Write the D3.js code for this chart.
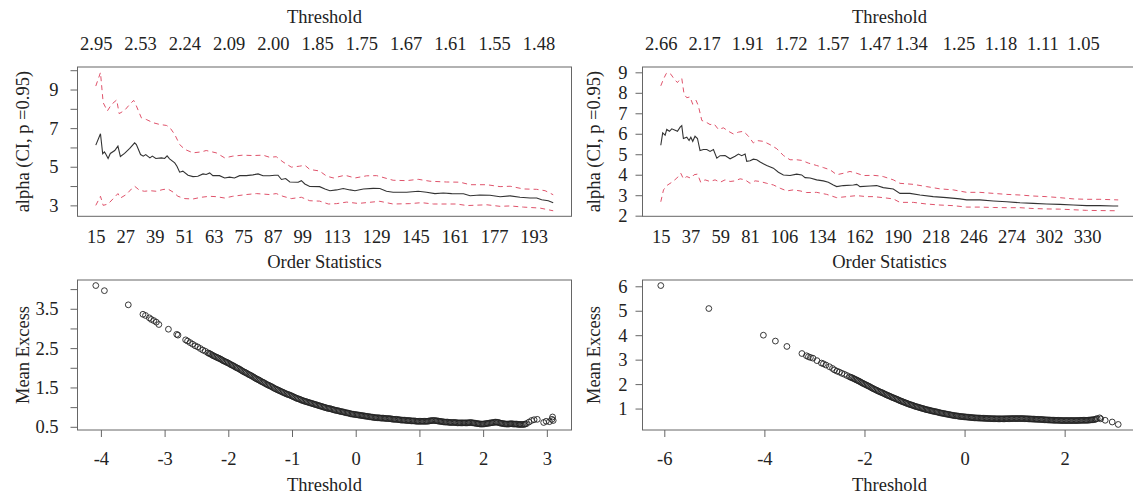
<!DOCTYPE html>
<html><head><meta charset="utf-8">
<script src="https://cdn.jsdelivr.net/npm/d3@7"></script>
<style>
body{margin:0;background:#fff}
svg text{font-family:"Liberation Serif","Times New Roman",serif;}
</style>
</head><body>
<svg id="c" width="1133" height="496"></svg>
<script>
// ---------------- DATA ----------------
// Hill plot, left series: [order statistic k, value]
const hillLeftAlpha = [[15,6.12],[16.9,6.71],[17.8,5.67],[18.5,5.77],[19,5.67],[20,5.43],[20.9,5.69],[22.7,5.84],[24,6.07],[25,5.53],[26.7,5.69],[28.8,5.95],[30.8,6.24],[31.5,6.15],[33.2,5.63],[34.3,5.55],[35.3,5.63],[37,5.46],[38,5.55],[39.4,5.43],[41.7,5.46],[43,5.43],[44,5.56],[45,5.41],[47.1,5.2],[48,5.03],[49.1,4.72],[50.4,4.77],[52.5,4.56],[54.5,4.49],[56.5,4.51],[58.6,4.63],[59.9,4.6],[61.3,4.68],[62.6,4.54],[65.3,4.54],[67.4,4.42],[69.4,4.46],[71.4,4.42],[73.5,4.54],[76.2,4.54],[78.9,4.58],[81,4.63],[83,4.53],[85.7,4.53],[87.8,4.56],[89.1,4.56],[90.5,4.34],[92.2,4.39],[93.9,4.21],[97.3,4.2],[98.6,4.28],[100,4.11],[102,3.98],[106,3.97],[108.2,3.85],[110.2,3.76],[112.9,3.8],[115.6,3.87],[118.4,3.8],[120.4,3.76],[123.8,3.85],[127.8,3.88],[130.5,3.87],[133.2,3.73],[135.9,3.68],[141.4,3.68],[146.1,3.73],[149.5,3.68],[152.9,3.61],[156.3,3.64],[159.7,3.61],[164.5,3.6],[167.2,3.5],[171.2,3.54],[175.3,3.52],[179.4,3.45],[183.5,3.49],[187.5,3.42],[191.6,3.38],[194.3,3.38],[196.3,3.29],[199,3.24],[201,3.14]];
const hillLeftUpper = [[15,9.18],[16.9,9.88],[18,8.32],[19.7,7.89],[21.4,8.23],[23.5,8.46],[24.5,7.75],[26.7,7.92],[28.8,8.23],[30.4,8.44],[31.5,8.15],[33.5,7.54],[35.5,7.45],[38.3,7.28],[41,7.19],[43.7,7.14],[45,7.05],[47.1,6.67],[49.1,6.15],[51.2,5.9],[54.5,5.72],[57.9,5.77],[59.9,5.84],[64,5.72],[67.4,5.46],[70.7,5.55],[74.8,5.6],[78.9,5.58],[83,5.6],[85.7,5.49],[88.4,5.52],[91.1,5.25],[94.5,4.98],[97.9,5.03],[100,5.08],[102,4.86],[106,4.78],[108.9,4.51],[111.6,4.42],[116.3,4.56],[120.4,4.42],[125.1,4.53],[129.2,4.54],[135.9,4.3],[141.4,4.28],[146.1,4.35],[150.9,4.25],[157.6,4.21],[163.1,4.2],[167.2,4.07],[174,4.07],[179.4,3.97],[183.5,3.99],[188.9,3.85],[194.3,3.83],[197.7,3.76],[201,3.55]];
const hillLeftLower = [[15,3.0],[16.9,3.47],[18,3.0],[20,3.07],[22.1,3.35],[24,3.61],[25,3.38],[27.4,3.56],[29.5,3.85],[30.8,3.99],[32.8,3.78],[34.8,3.73],[37,3.76],[39.6,3.73],[42.3,3.82],[44.3,3.85],[46.4,3.69],[48.4,3.47],[51.2,3.35],[54.5,3.33],[57.9,3.42],[61.3,3.47],[64,3.45],[67.4,3.38],[70.7,3.47],[76.2,3.56],[80.3,3.61],[85.7,3.56],[88.4,3.61],[91.1,3.47],[94.5,3.35],[98.6,3.42],[102,3.24],[106,3.22],[109.6,3.07],[112.9,3.09],[117,3.17],[121.7,3.1],[126.5,3.16],[130.5,3.21],[135.9,3.07],[142.7,3.09],[147.5,3.14],[152.3,3.07],[161.8,3.07],[165.9,2.99],[174,3.03],[179.4,2.95],[183.5,2.97],[188.9,2.91],[195.6,2.86],[201,2.72]];

// Hill plot, right series
const hillRightAlpha = [[15,5.44],[16.4,6.04],[18.2,5.93],[19.4,6.21],[21.4,6.12],[23.1,6.24],[25.6,6.17],[27.3,6.12],[29.3,6.32],[30.5,6.40],[31.7,5.77],[34.2,5.83],[35.9,5.67],[37.2,5.83],[38.6,5.63],[40.3,5.88],[42.1,5.77],[44,5.18],[46.5,5.23],[49,5.23],[51.4,5.14],[53.9,5.23],[56.4,4.81],[58.8,4.93],[62.5,4.94],[66.2,4.78],[69.9,4.9],[72.4,5.01],[74.8,4.93],[77.3,5.01],[78.5,4.65],[81,4.68],[83.4,4.76],[85.9,4.73],[88.4,4.62],[93.3,4.45],[98.2,4.32],[101.9,4.12],[105.6,3.99],[110.5,3.96],[115.4,4.03],[119.1,3.99],[121.6,3.86],[125.3,3.84],[130.2,3.75],[135.1,3.70],[138.8,3.63],[142.5,3.5],[145,3.42],[149.9,3.47],[157.3,3.5],[159.8,3.53],[162.2,3.42],[169.6,3.45],[174.5,3.47],[179.4,3.37],[186.8,3.3],[191.7,3.09],[199.1,3.09],[206.5,3.01],[216.3,2.93],[226.2,2.88],[236.1,2.82],[241,2.77],[250.8,2.77],[260.7,2.72],[270.5,2.68],[280.4,2.63],[290.2,2.6],[300.1,2.57],[309.9,2.55],[319.8,2.52],[329.6,2.49],[339.5,2.49],[349.3,2.47],[353,2.47]];
const hillRightUpper = [[15,8.34],[17,8.67],[19,8.94],[20.7,8.99],[22.4,8.91],[24.9,8.67],[27.3,8.5],[29.3,8.67],[30.5,8.71],[32.2,7.93],[34.2,7.76],[36.6,7.8],[38.6,7.44],[41.1,7.63],[42.8,7.35],[45.3,6.65],[48.4,6.57],[51.4,6.45],[54.4,6.48],[57.6,6.21],[61.3,6.29],[65,6.12],[68.7,5.99],[72.4,6.08],[76.1,6.12],[79.8,5.88],[83.4,5.55],[85.9,5.67],[90.8,5.63],[95.7,5.47],[100.7,5.27],[105.6,4.94],[110.5,4.73],[115.4,4.73],[119.1,4.7],[124,4.57],[130.2,4.45],[135.1,4.35],[140.1,4.24],[145,4.0],[149.9,4.07],[154.8,4.16],[159.8,4.07],[164.7,3.96],[172.1,3.97],[177,3.94],[179.4,3.91],[186.8,3.75],[191.7,3.58],[201.6,3.53],[211.4,3.42],[221.3,3.31],[231.1,3.26],[241,3.14],[250.8,3.14],[260.7,3.09],[270.5,3.04],[280.4,3.01],[290.2,2.96],[300.1,2.93],[309.9,2.88],[319.8,2.82],[329.6,2.8],[339.5,2.8],[353,2.77]];
const hillRightLower = [[15,2.68],[17,3.26],[19.4,3.47],[23.1,3.63],[26.8,3.83],[29.8,4.07],[31.7,3.8],[34.2,3.91],[37.2,3.83],[39.6,4.0],[42.1,4.03],[44.5,3.63],[47.7,3.75],[51.4,3.67],[55.1,3.75],[58.8,3.63],[62.5,3.75],[66.2,3.67],[69.9,3.7],[73.6,3.8],[77.3,3.75],[81,3.58],[84.7,3.7],[88.4,3.67],[93.3,3.58],[98.2,3.5],[103.2,3.34],[108.1,3.21],[113,3.26],[117.9,3.21],[122.8,3.13],[130.2,3.14],[137.6,3.04],[145,2.88],[152.3,2.93],[159.8,2.98],[167.1,2.93],[172.1,2.93],[179.4,2.88],[186.8,2.82],[191.7,2.65],[201.6,2.65],[211.4,2.57],[221.3,2.52],[231.1,2.49],[241,2.42],[250.8,2.42],[260.7,2.4],[270.5,2.39],[280.4,2.39],[290.2,2.35],[300.1,2.33],[309.9,2.32],[319.8,2.29],[329.6,2.26],[339.5,2.25],[353,2.24]];

// Hill axes tick labels
const hillLeftOrderTicks = [15,27,39,51,63,75,87,99,113,129,145,161,177,193];
const hillLeftThreshK = [15,33,51,69,87,105,123,141,159,177,195];
const hillLeftThreshLabels = ["2.95","2.53","2.24","2.09","2.00","1.85","1.75","1.67","1.61","1.55","1.48"];
const hillLeftYTicks = [3,4,5,6,7,8,9,10];
const hillLeftYLabels = [3,5,7,9];
const hillRightOrderTicks = [15,37,59,81,106,134,162,190,218,246,274,302,330];
const hillRightThreshK = [15,47,79,111,142,173,200,235,266,297,327];
const hillRightThreshLabels = ["2.66","2.17","1.91","1.72","1.57","1.47","1.34","1.25","1.18","1.11","1.05"];
const hillRightYTicks = [2,3,4,5,6,7,8,9];
const hillRightYLabels = [2,3,4,5,6,7,8,9];

// Mean excess plot, left: [threshold, mean excess]
const meLeft = [[-4.08,4.09],[-3.945,3.96],[-3.57,3.60],[-3.34,3.36],[-3.30,3.33],[-3.24,3.27],[-3.21,3.23],[-3.17,3.20],[-3.13,3.16],[-3.09,3.10],[-2.94,2.98],[-2.81,2.85],[-2.79,2.83],[-2.67,2.71],[-2.64,2.68],
[-2.60,2.64],[-2.56,2.60],[-2.52,2.56],[-2.48,2.53],[-2.44,2.49],[-2.40,2.45],[-2.36,2.42],[-2.32,2.38],
[-2.30,2.365],[-2.28,2.35],[-2.26,2.33],[-2.24,2.31],[-2.22,2.295],[-2.20,2.28],[-2.18,2.265],[-2.16,2.25],[-2.14,2.235],[-2.12,2.22],[-2.10,2.20],[-2.08,2.18],[-2.06,2.165],[-2.04,2.15],[-2.02,2.135],[-2.00,2.12],[-1.98,2.10],[-1.96,2.08],[-1.94,2.065],[-1.92,2.05],[-1.90,2.03],[-1.88,2.01],[-1.86,1.995],[-1.84,1.98],[-1.82,1.96],[-1.80,1.94],[-1.78,1.92],[-1.76,1.90],[-1.74,1.885],[-1.72,1.87],[-1.70,1.85],[-1.68,1.83],[-1.66,1.815],[-1.64,1.80],[-1.62,1.78],[-1.60,1.76],[-1.58,1.74],[-1.56,1.72],[-1.54,1.705],[-1.52,1.69],[-1.50,1.67],[-1.48,1.65],[-1.46,1.635],[-1.44,1.62],[-1.42,1.60],[-1.40,1.58],[-1.38,1.565],[-1.36,1.55],[-1.34,1.535],[-1.32,1.52],[-1.30,1.50],[-1.28,1.48],[-1.26,1.465],[-1.24,1.45],[-1.22,1.435],[-1.20,1.42],[-1.18,1.405],[-1.16,1.39],[-1.14,1.375],[-1.12,1.36],[-1.10,1.345],[-1.08,1.33],[-1.06,1.32],[-1.04,1.31],[-1.02,1.295],[-1.00,1.28],[-0.98,1.265],[-0.96,1.25],[-0.94,1.235],[-0.92,1.22],[-0.90,1.21],[-0.88,1.20],[-0.86,1.185],[-0.84,1.17],[-0.82,1.16],[-0.80,1.15],[-0.78,1.14],[-0.76,1.13],[-0.74,1.12],[-0.72,1.11],[-0.70,1.10],[-0.68,1.09],[-0.66,1.08],[-0.64,1.07],[-0.62,1.06],[-0.60,1.05],[-0.58,1.04],[-0.56,1.03],[-0.54,1.02],[-0.52,1.01],[-0.50,1.00],[-0.48,0.99],[-0.46,0.98],[-0.44,0.97],[-0.42,0.965],[-0.40,0.96],[-0.38,0.95],[-0.36,0.94],[-0.34,0.93],[-0.32,0.92],[-0.30,0.915],[-0.28,0.91],[-0.26,0.90],[-0.24,0.89],[-0.22,0.885],[-0.20,0.88],[-0.18,0.87],[-0.16,0.86],[-0.14,0.855],[-0.12,0.85],[-0.10,0.84],[-0.08,0.83],[-0.06,0.825],[-0.04,0.82],[-0.02,0.815],[0.00,0.81],[0.02,0.805],[0.04,0.80],[0.06,0.795],[0.08,0.79],[0.10,0.785],[0.12,0.78],[0.14,0.775],[0.16,0.77],[0.18,0.765],[0.20,0.76],[0.22,0.755],[0.24,0.75],[0.26,0.745],[0.28,0.74],[0.30,0.735],[0.32,0.73],[0.34,0.73],[0.36,0.73],[0.38,0.725],[0.40,0.72],[0.42,0.72],[0.44,0.72],[0.46,0.715],[0.48,0.71],[0.50,0.71],[0.52,0.71],[0.54,0.705],[0.56,0.70],[0.58,0.695],[0.60,0.69],[0.62,0.69],[0.64,0.69],[0.66,0.685],[0.68,0.68],[0.70,0.675],[0.72,0.67],[0.74,0.67],[0.76,0.67],[0.78,0.665],[0.80,0.66],[0.82,0.66],[0.84,0.66],[0.86,0.655],[0.88,0.65],[0.90,0.65],[0.92,0.65],[0.94,0.645],[0.96,0.64],[0.98,0.64],[1.00,0.64],[1.02,0.64],[1.04,0.64],[1.06,0.64],[1.08,0.64],[1.10,0.64],[1.12,0.64],[1.14,0.645],[1.16,0.65],[1.18,0.655],[1.20,0.66],[1.22,0.66],[1.24,0.66],[1.26,0.655],[1.28,0.65],[1.30,0.645],[1.32,0.64],[1.34,0.635],[1.36,0.63],[1.38,0.625],[1.40,0.62],[1.42,0.62],[1.44,0.62],[1.46,0.615],[1.48,0.61],[1.50,0.61],[1.52,0.61],[1.54,0.61],[1.56,0.61],[1.58,0.605],[1.60,0.60],[1.62,0.60],[1.64,0.60],[1.66,0.60],[1.68,0.60],[1.70,0.60],[1.72,0.60],[1.74,0.60],[1.76,0.60],[1.78,0.605],[1.80,0.61],[1.82,0.605],[1.84,0.60],[1.86,0.595],[1.88,0.59],[1.90,0.585],[1.92,0.58],[1.94,0.575],[1.96,0.57],[1.98,0.57],[2.00,0.57],[2.02,0.575],[2.04,0.58],[2.06,0.585],[2.08,0.59],[2.10,0.595],[2.12,0.60],[2.14,0.605],[2.16,0.61],[2.18,0.615],[2.20,0.62],[2.22,0.615],[2.24,0.61],[2.26,0.60],[2.28,0.59],[2.30,0.585],[2.32,0.58],[2.34,0.575],[2.36,0.57],[2.38,0.57],[2.40,0.57],[2.42,0.575],[2.44,0.58],[2.46,0.575],[2.48,0.57],[2.50,0.57],[2.52,0.57],[2.54,0.565],[2.56,0.56],[2.58,0.56],[2.60,0.56],[2.62,0.56],[2.64,0.56],[2.66,0.57],[2.68,0.58],
[2.72,0.62],[2.76,0.66],[2.80,0.68],[2.85,0.69],[2.95,0.61],[2.99,0.64],[3.04,0.63],[3.08,0.69],[3.09,0.75],[3.10,0.66]];
const meLeftXTicks = [-4,-3,-2,-1,0,1,2,3];
const meLeftYTicks = [0.5,1,1.5,2,2.5,3,3.5,4];
const meLeftYLabels = [0.5,1.5,2.5,3.5];

// Mean excess plot, right
const meRight = [[-6.07,6.03],[-5.11,5.09],[-4.02,4.00],[-3.78,3.76],[-3.55,3.54],[-3.25,3.25],[-3.16,3.16],[-3.12,3.12],[-3.08,3.09],[-3.03,3.06],[-2.95,2.96],[-2.86,2.86],[-2.82,2.83],[-2.77,2.78],[-2.70,2.71],[-2.64,2.64],
[-2.60,2.58],[-2.55,2.53],[-2.50,2.49],[-2.45,2.44],[-2.40,2.40],[-2.35,2.35],
[-2.300,2.30],[-2.275,2.28],[-2.250,2.26],[-2.225,2.235],[-2.200,2.21],[-2.175,2.185],[-2.150,2.16],[-2.125,2.135],[-2.100,2.11],[-2.075,2.08],[-2.050,2.05],[-2.025,2.025],[-2.000,2.00],[-1.975,1.975],[-1.950,1.95],[-1.925,1.925],[-1.900,1.90],[-1.875,1.87],[-1.850,1.84],[-1.825,1.815],[-1.800,1.79],[-1.775,1.765],[-1.750,1.74],[-1.725,1.715],[-1.700,1.69],[-1.675,1.67],[-1.650,1.65],[-1.625,1.625],[-1.600,1.60],[-1.575,1.575],[-1.550,1.55],[-1.525,1.53],[-1.500,1.51],[-1.475,1.485],[-1.450,1.46],[-1.425,1.44],[-1.400,1.42],[-1.375,1.40],[-1.350,1.38],[-1.325,1.355],[-1.300,1.33],[-1.275,1.31],[-1.250,1.29],[-1.225,1.27],[-1.200,1.25],[-1.175,1.23],[-1.150,1.21],[-1.125,1.19],[-1.100,1.17],[-1.075,1.155],[-1.050,1.14],[-1.025,1.12],[-1.000,1.10],[-0.975,1.085],[-0.950,1.07],[-0.925,1.055],[-0.900,1.04],[-0.875,1.025],[-0.850,1.01],[-0.825,0.995],[-0.800,0.98],[-0.775,0.965],[-0.750,0.95],[-0.725,0.94],[-0.700,0.93],[-0.675,0.915],[-0.650,0.90],[-0.625,0.89],[-0.600,0.88],[-0.575,0.87],[-0.550,0.86],[-0.525,0.845],[-0.500,0.83],[-0.475,0.82],[-0.450,0.81],[-0.425,0.80],[-0.400,0.79],[-0.375,0.78],[-0.350,0.77],[-0.325,0.76],[-0.300,0.75],[-0.275,0.74],[-0.250,0.73],[-0.225,0.72],[-0.200,0.71],[-0.175,0.705],[-0.150,0.70],[-0.125,0.69],[-0.100,0.68],[-0.075,0.675],[-0.050,0.67],[-0.025,0.665],[0.000,0.66],[0.025,0.655],[0.050,0.65],[0.075,0.645],[0.100,0.64],[0.125,0.635],[0.150,0.63],[0.175,0.625],[0.200,0.62],[0.225,0.618],[0.250,0.615],[0.275,0.613],[0.300,0.61],[0.325,0.608],[0.350,0.605],[0.375,0.603],[0.400,0.60],[0.425,0.598],[0.450,0.595],[0.475,0.593],[0.500,0.59],[0.525,0.588],[0.550,0.585],[0.575,0.585],[0.600,0.585],[0.625,0.583],[0.650,0.58],[0.675,0.58],[0.700,0.58],[0.725,0.58],[0.750,0.58],[0.775,0.58],[0.800,0.58],[0.825,0.583],[0.850,0.585],[0.875,0.585],[0.900,0.585],[0.925,0.588],[0.950,0.59],[0.975,0.59],[1.000,0.59],[1.025,0.59],[1.050,0.59],[1.075,0.59],[1.100,0.59],[1.125,0.59],[1.150,0.59],[1.175,0.588],[1.200,0.585],[1.225,0.583],[1.250,0.58],[1.275,0.578],[1.300,0.575],[1.325,0.573],[1.350,0.57],[1.375,0.568],[1.400,0.565],[1.425,0.563],[1.450,0.56],[1.475,0.558],[1.500,0.555],[1.525,0.553],[1.550,0.55],[1.575,0.545],[1.600,0.54],[1.625,0.538],[1.650,0.535],[1.675,0.533],[1.700,0.53],[1.725,0.528],[1.750,0.525],[1.775,0.523],[1.800,0.52],[1.825,0.52],[1.850,0.52],[1.875,0.518],[1.900,0.515],[1.925,0.513],[1.950,0.51],[1.975,0.51],[2.000,0.51],[2.025,0.51],[2.050,0.51],[2.075,0.51],[2.100,0.51],[2.125,0.51],[2.150,0.51],[2.175,0.51],[2.200,0.51],[2.225,0.51],[2.250,0.51],[2.275,0.513],[2.300,0.515],[2.325,0.518],[2.350,0.52],[2.375,0.52],[2.400,0.52],[2.425,0.52],[2.450,0.52],[2.475,0.525],[2.500,0.53],[2.525,0.535],[2.550,0.54],[2.575,0.545],[2.600,0.55],[2.625,0.57],[2.650,0.59],
[2.70,0.62],[2.72,0.58],[2.81,0.52],[2.95,0.45],[3.07,0.35]];
const meRightXTicks = [-6,-4,-2,0,2];
const meRightYTicks = [1,2,3,4,5,6];
const meRightYLabels = [1,2,3,4,5,6];

// ---------------- DRAWING ----------------
const svg = d3.select("#c");
const TXT = "#222", AX = "#666", RED = "#DF536B";
const FS = 18.5;

function padR(ext){ const r = ext[1]-ext[0]; return [ext[0]-0.04*r, ext[1]+0.04*r]; }

function styleAxis(g){
  g.select(".domain").remove();
  g.attr("color", AX);
  g.selectAll("text").attr("fill", TXT).style("font-size", FS+"px").style("font-family",'"Liberation Serif","Times New Roman",serif');
}

function box(g, b){
  g.append("rect").attr("x",b.l).attr("y",b.t).attr("width",b.r-b.l).attr("height",b.b-b.t)
   .attr("fill","none").attr("stroke",AX).attr("stroke-width",1);
}

function yTitle(b, text, off){
  svg.append("text").attr("transform",`translate(${b.l-off},${(b.t+b.b)/2}) rotate(-90)`)
    .attr("text-anchor","middle").attr("fill",TXT).style("font-size",FS+"px").text(text);
}
function xTitle(b, text, y){
  svg.append("text").attr("x",(b.l+b.r)/2).attr("y",y).attr("text-anchor","middle")
    .attr("fill",TXT).style("font-size",FS+"px").text(text);
}

function hillPanel(b, alpha, upper, lower, orderTicks, thK, thLab, yTicks, yLabs, yGap, yOff){
  const g = svg.append("g");
  const x = d3.scaleLinear().domain(padR(d3.extent(alpha, d=>d[0]))).range([b.l, b.r]);
  const y = d3.scaleLinear().domain(padR(d3.extent(upper.concat(lower), d=>d[1]))).range([b.b, b.t]);
  const clip = "clip"+Math.round(b.l);
  svg.append("clipPath").attr("id",clip).append("rect").attr("x",b.l).attr("y",b.t).attr("width",b.r-b.l).attr("height",b.b-b.t);
  const line = d3.line().x(d=>x(d[0])).y(d=>y(d[1]));
  const pg = g.append("g").attr("clip-path",`url(#${clip})`);
  pg.append("path").attr("d",line(upper)).attr("fill","none").attr("stroke",RED).attr("stroke-width",1).attr("stroke-dasharray","5,4");
  pg.append("path").attr("d",line(lower)).attr("fill","none").attr("stroke",RED).attr("stroke-width",1).attr("stroke-dasharray","5,4");
  pg.append("path").attr("d",line(alpha)).attr("fill","none").attr("stroke","#333").attr("stroke-width",1.1);
  box(g, b);
  g.append("g").attr("transform",`translate(0,${b.b})`)
    .call(d3.axisBottom(x).tickValues(orderTicks).tickSize(0).tickPadding(14).tickFormat(d3.format("d"))).call(styleAxis);
  g.append("g").attr("transform",`translate(0,${b.t})`)
    .call(d3.axisTop(x).tickValues(thK).tickSize(0).tickPadding(17).tickFormat((d,i)=>thLab[i])).call(styleAxis);
  g.append("g").attr("transform",`translate(${b.l},0)`)
    .call(d3.axisLeft(y).tickValues(yTicks).tickSize(7).tickPadding(yGap-7).tickFormat(d=>yLabs.includes(d)?d3.format("d")(d):"")).call(styleAxis);
  yTitle(b, "alpha (CI, p =0.95)", yOff);
  xTitle(b, "Order Statistics", b.b+52);
  xTitle(b, "Threshold", b.t-44.5);
}

function mePanel(b, pts, xTicks, yTicks, yLabs, yFmt, yGap, yOff){
  const g = svg.append("g");
  const x = d3.scaleLinear().domain(padR(d3.extent(pts, d=>d[0]))).range([b.l, b.r]);
  const y = d3.scaleLinear().domain(padR(d3.extent(pts, d=>d[1]))).range([b.b, b.t]);
  g.append("g").selectAll("circle").data(pts).join("circle")
    .attr("cx",d=>x(d[0])).attr("cy",d=>y(d[1])).attr("r",2.9)
    .attr("fill","none").attr("stroke","#222").attr("stroke-width",0.9);
  box(g, b);
  g.append("g").attr("transform",`translate(0,${b.b})`)
    .call(d3.axisBottom(x).tickValues(xTicks).tickSize(7).tickPadding(15).tickFormat(d=>d3.format("d")(d).replace("−","-"))).call(styleAxis);
  g.append("g").attr("transform",`translate(${b.l},0)`)
    .call(d3.axisLeft(y).tickValues(yTicks).tickSize(7).tickPadding(yGap-7).tickFormat(d=>yLabs.includes(d)?yFmt(d):"")).call(styleAxis);
  yTitle(b, "Mean Excess", yOff);
  xTitle(b, "Threshold", b.b+60.5);
}

const bTL = {l:77.5, r:571.5, t:67, b:216.3};
const bTR = {l:642.5, r:1136.5, t:67, b:216.3};
const bBL = {l:77.5, r:571.5, t:280, b:430};
const bBR = {l:642.5, r:1136.5, t:280, b:430};

hillPanel(bTL, hillLeftAlpha, hillLeftUpper, hillLeftLower, hillLeftOrderTicks, hillLeftThreshK, hillLeftThreshLabels, hillLeftYTicks, hillLeftYLabels, 19, 49);
hillPanel(bTR, hillRightAlpha, hillRightUpper, hillRightLower, hillRightOrderTicks, hillRightThreshK, hillRightThreshLabels, hillRightYTicks, hillRightYLabels, 15, 43);
mePanel(bBL, meLeft, meLeftXTicks, meLeftYTicks, meLeftYLabels, d3.format(".1f"), 19, 49);
mePanel(bBR, meRight, meRightXTicks, meRightYTicks, meRightYLabels, d3.format("d"), 15, 43);
</script>
</body></html>
